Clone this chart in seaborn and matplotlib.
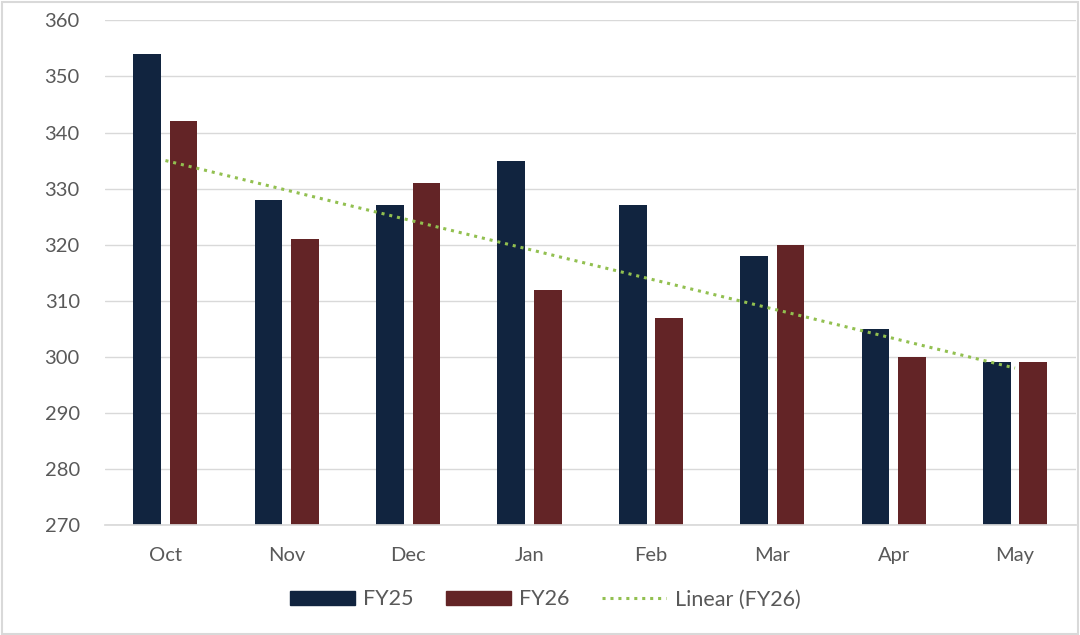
import numpy as np
import pandas as pd
import matplotlib
matplotlib.use("Agg")
import matplotlib.pyplot as plt
from matplotlib.patches import Rectangle
import seaborn as sns

months = ["Oct", "Nov", "Dec", "Jan", "Feb", "Mar", "Apr", "May"]
fy25 = [354, 328, 327, 335, 327, 318, 305, 299]
fy26 = [342, 321, 331, 312, 307, 320, 300, 299]
series = ["FY25", "FY26"]
colors = ["#11243F", "#632426"]
trend_color = "#92C050"

df = pd.DataFrame({
    "month": months * 2,
    "value": fy25 + fy26,
    "series": ["FY25"] * len(months) + ["FY26"] * len(months),
})

sns.set_theme(style="white")
plt.rcParams["font.family"] = ["Lato", "DejaVu Sans"]

fig, ax = plt.subplots(figsize=(10.8, 6.35), dpi=100)
fig.subplots_adjust(left=0.097, right=0.996, top=0.968, bottom=0.173)

sns.barplot(data=df, x="month", y="value", hue="series", order=months,
            hue_order=series, palette=colors, width=0.6, gap=0.24,
            saturation=1, linewidth=0, ax=ax, legend=False)

# linear trendline for FY26 like the spreadsheet adds
x = np.arange(len(months))
slope, icpt = np.polyfit(x, fy26, 1)
ax.plot(x, slope * x + icpt, linestyle=(0, (1, 1.6)), color=trend_color,
        linewidth=2.2, zorder=3)

ax.set_ylim(270, 360)
ax.set_yticks(range(270, 361, 10))
ax.set_xlim(-0.5, len(months) - 0.5)
ax.yaxis.grid(True, color="#D9D9D9", linewidth=1)
ax.set_axisbelow(True)
for s in ["top", "right", "left"]:
    ax.spines[s].set_visible(False)
ax.spines["bottom"].set_color("#D9D9D9")
ax.tick_params(axis="both", length=0, labelsize=14.5, colors="#595959")
ax.tick_params(axis="x", pad=16)
ax.tick_params(axis="y", pad=18)
ax.set_xlabel("")
ax.set_ylabel("")

handles = [Rectangle((0, 0), 1, 1, color=colors[0]),
           Rectangle((0, 0), 1, 1, color=colors[1]),
           plt.Line2D([], [], linestyle=(0, (1, 1.6)), color=trend_color, linewidth=2.2)]
leg = fig.legend(handles, ["FY25", "FY26", "Linear (FY26)"], loc="center",
                 bbox_to_anchor=(0.505, 0.056), ncol=3, frameon=False,
                 fontsize=15.5, handlelength=3.0, handleheight=0.65,
                 columnspacing=1.5, handletextpad=0.4)
for t in leg.get_texts():
    t.set_color("#595959")

fig.patches.append(Rectangle((0.002, 0.002), 0.996, 0.995, transform=fig.transFigure,
                             fill=False, edgecolor="#D9D9D9", linewidth=1.5))

fig.savefig("out.png", dpi=100)
